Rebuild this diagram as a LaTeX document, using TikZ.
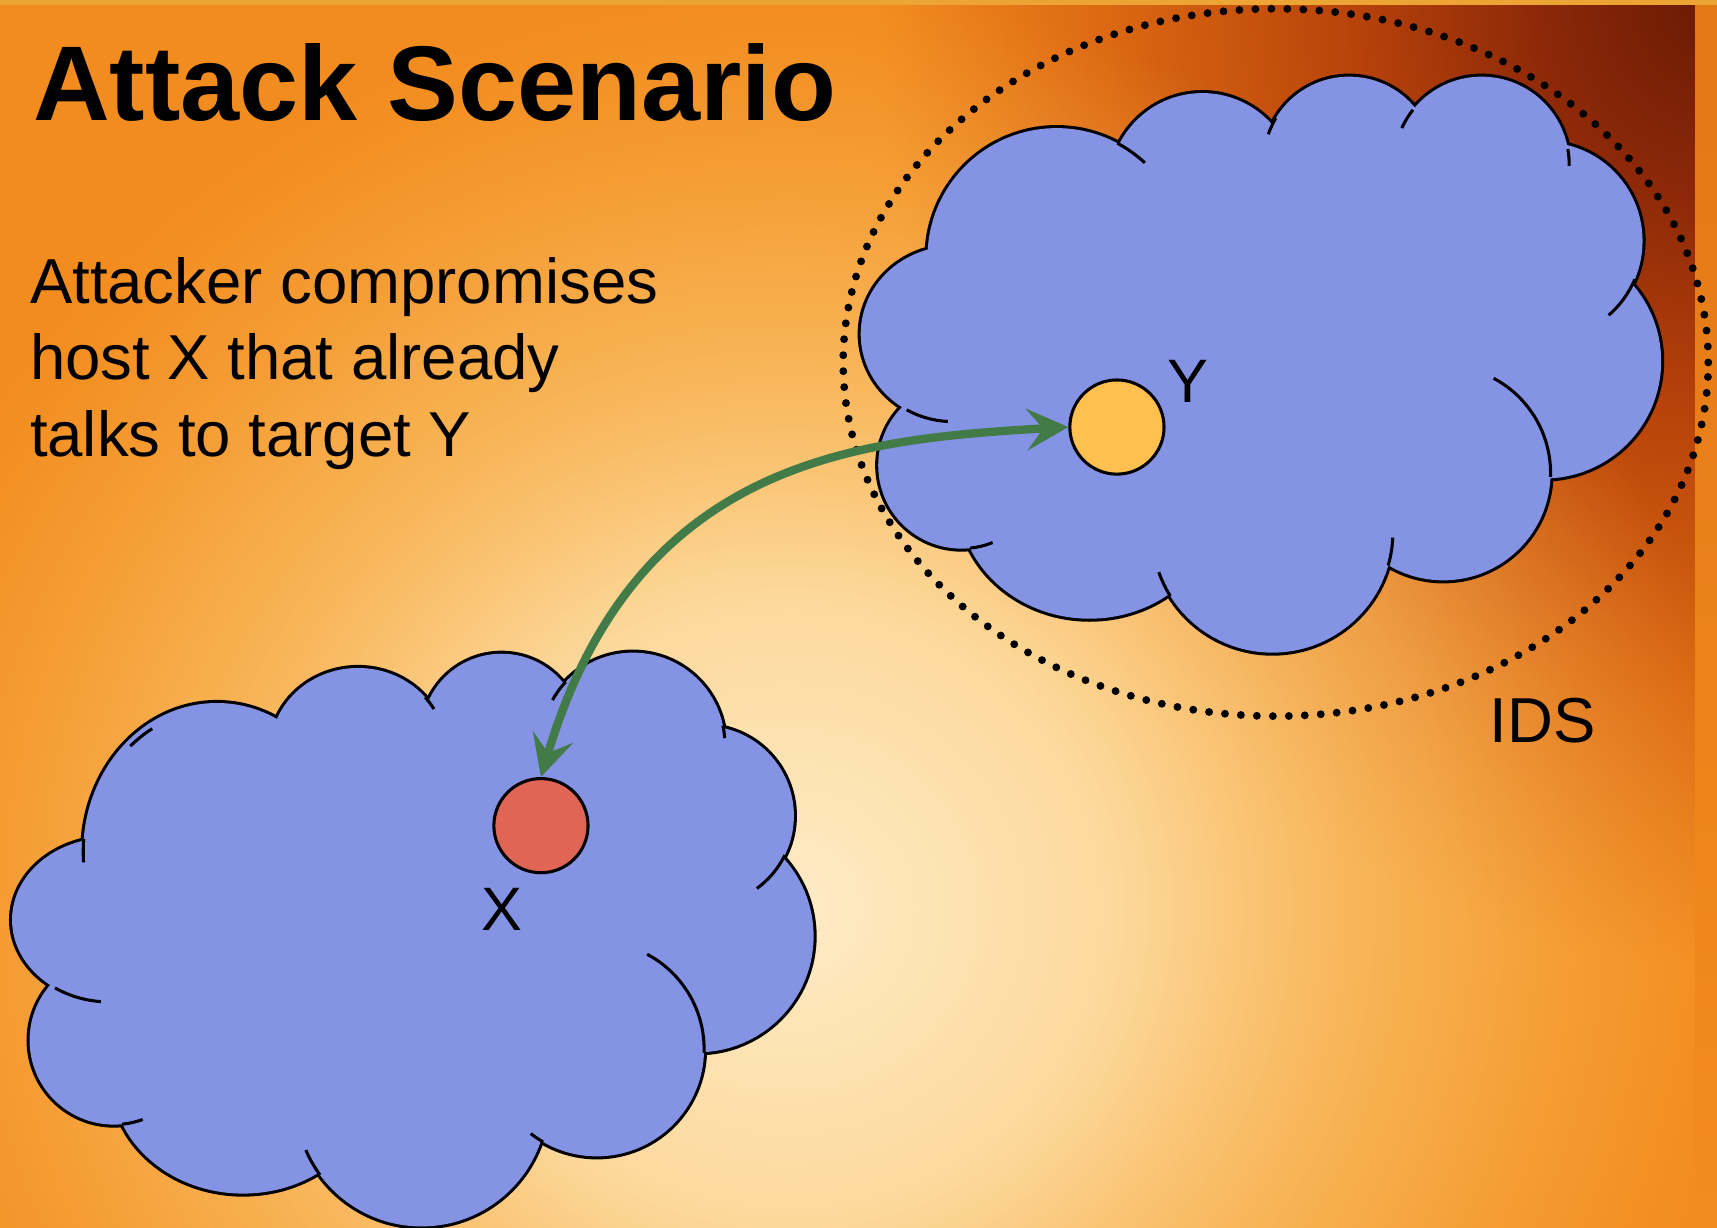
\documentclass[tikz,border=0pt]{standalone}
\usepackage{fontspec}
\setmainfont{Liberation Sans}
\usetikzlibrary{arrows.meta,fadings}
\definecolor{bgbase}{RGB}{243,140,30}
\definecolor{bgcream}{RGB}{255,236,200}
\definecolor{bgcreamb}{RGB}{254,226,172}
\definecolor{bglight}{RGB}{251,200,112}
\definecolor{bgmid}{RGB}{248,180,80}
\definecolor{bgdark}{RGB}{106,26,5}
\definecolor{bgdarkb}{RGB}{140,40,8}
\definecolor{bgred}{RGB}{186,68,10}
\definecolor{bgorred}{RGB}{220,104,18}
\definecolor{bgtop}{RGB}{236,164,52}
\definecolor{bgstrip}{RGB}{226,120,22}
\definecolor{cloudblue}{RGB}{132,147,228}
\definecolor{ycol}{RGB}{255,192,80}
\definecolor{xcol}{RGB}{224,101,85}
\definecolor{arrgreen}{RGB}{66,123,71}
\pgfdeclareradialshading{creamglow}{\pgfpoint{0bp}{0bp}}{color(0bp)=(bgcream);color(8bp)=(bgcreamb);color(16bp)=(bglight);color(25bp)=(bgmid);color(50bp)=(bgmid)}
\pgfdeclareradialshading{creamfadeshade}{\pgfpoint{0bp}{0bp}}{color(0bp)=(white);color(9bp)=(white!90!black);color(17bp)=(white!55!black);color(25bp)=(black);color(50bp)=(black)}
\pgfdeclarefading{creamfade}{\pgfuseshading{creamfadeshade}}
\pgfdeclareradialshading{darkglow}{\pgfpoint{0bp}{0bp}}{color(0bp)=(bgdark);color(5bp)=(bgdarkb);color(11bp)=(bgred);color(18bp)=(bgorred);color(25bp)=(bgbase);color(50bp)=(bgbase)}
\tikzset{
  puffline/.style={line width=2.8pt},
  puffhook/.style={line width=1.4pt},
  host/.style={circle, draw=black, line width=1.4pt, minimum size=43pt, inner sep=0pt},
  lbl/.style={inner sep=0pt, font=\fontsize{28}{34}\selectfont},
  body/.style={anchor=base west, inner sep=0pt, font=\fontsize{29}{35}\selectfont},
  idsring/.style={line width=3.6pt, line cap=round, dash pattern=on 0pt off 7.3pt},
  link/.style={draw=arrgreen, line width=3.8pt, {Stealth[length=19pt,width=19pt,inset=7.5pt]}-{Stealth[length=19pt,width=19pt,inset=7.5pt]}}
}
\def\cloudA{965/886/118/118, 1098/951/85/85, 1232/973/78/78, 1353/971/80/80, 1410/901/90/90, 1410/791/107/107, 1318/689/98/98, 1162/635/110/110, 995/666/120/110, 878/696/76/76, 870/816/84/80}
\def\cloudB{198/343/122/136, 327/436/80/75, 458/451/73/73, 578/441/84/84, 643/376/82/82, 637/266/106/106, 545/163/98/98, 385/116/115/115, 222/136/120/105, 104/171/77/77, 100/281/89/75}
\begin{document}
\begin{tikzpicture}[x=0.5pt,y=0.5pt]
% background
\useasboundingbox (0,0) rectangle (1568,1121);
\fill[bgbase] (0,0) rectangle (1568,1121);
\begin{scope}
\clip (0,0) rectangle (1548,1116);
\shade[shading=darkglow] (1560,1121) ellipse [x radius=760, y radius=880];
\shade[shading=creamglow, path fading=creamfade] (720,291) ellipse [x radius=880, y radius=840];
\end{scope}
\shade[top color=bgstrip, bottom color=bgbase] (1548,0) rectangle (1568,1116);
\fill[bgtop] (0,1116) rectangle (1568,1121);

% cloud around Y
\foreach \cx/\cy/\rx/\ry in \cloudA {\draw[puffline] (\cx,\cy) ellipse [x radius=\rx, y radius=\ry];}
\foreach \cx/\cy/\rx/\ry in \cloudA {\fill[cloudblue] (\cx,\cy) ellipse [x radius=\rx, y radius=\ry];}
\fill[cloudblue] (1140,801) ellipse [x radius=280, y radius=180];
\draw[puffhook] (965,886) ++(62:118) arc[start angle=62, end angle=47, radius=118];
\draw[puffhook] (1232,973) ++(149:78) arc[start angle=149, end angle=161, radius=78];
\draw[puffhook] (1353,971) ++(141.6:80) arc[start angle=141.6, end angle=155.6, radius=80];
\draw[puffhook] (1353,971) ++(10:80) arc[start angle=10, end angle=-1, radius=80];
\draw[puffhook] (1410,901) ++(-23:90) arc[start angle=-23, end angle=-49, radius=90];
\draw[puffhook] (1318,689) ++(-2:98) arc[start angle=-2, end angle=62, radius=98];
\draw[puffhook] (1162,635) ++(-16:110) arc[start angle=-16, end angle=-2.6, radius=110];
\draw[puffhook] (1162,635) ++(-148:110) arc[start angle=-148, end angle=-160.6, radius=110];
\draw[puffhook] (878,696) ++(-84:76) arc[start angle=-84, end angle=-68, radius=76];
\draw[puffhook] (870,816) ++(-120:84 and 80) arc[start angle=-120, end angle=-93, x radius=84, y radius=80];

% cloud around X
\foreach \cx/\cy/\rx/\ry in \cloudB {\draw[puffline] (\cx,\cy) ellipse [x radius=\rx, y radius=\ry];}
\foreach \cx/\cy/\rx/\ry in \cloudB {\fill[cloudblue] (\cx,\cy) ellipse [x radius=\rx, y radius=\ry];}
\fill[cloudblue] (380,271) ellipse [x radius=290, y radius=190];
\draw[puffhook] (578,441) ++(137:84) arc[start angle=137, end angle=151, radius=84];
\draw[puffhook] (578,441) ++(12:84) arc[start angle=12, end angle=4, radius=84];
\draw[puffhook] (643,376) ++(-26:82) arc[start angle=-26, end angle=-54, radius=82];
\draw[puffhook] (545,163) ++(-2:98) arc[start angle=-2, end angle=62, radius=98];
\draw[puffhook] (545,163) ++(-120:98) arc[start angle=-120, end angle=-128, radius=98];
\draw[puffhook] (385,116) ++(-143.8:115) arc[start angle=-143.8, end angle=-156.8, radius=115];
\draw[puffhook] (104,171) ++(-84.5:77) arc[start angle=-84.5, end angle=-70, radius=77];
\draw[puffhook] (100,281) ++(-124:89 and 75) arc[start angle=-124, end angle=-95, x radius=89, y radius=75];
\draw[puffhook] (198,343) ++(175:122 and 136) arc[start angle=175, end angle=184, x radius=122, y radius=136];
\draw[puffhook] (327,436) ++(40:80 and 75) arc[start angle=40, end angle=30, x radius=80, y radius=75];
\draw[puffhook] (198,343) ++(132:118 and 130) arc[start angle=132, end angle=120, x radius=118, y radius=130];

% IDS boundary
\draw[idsring] (1165,790) ellipse [x radius=395, y radius=323];

% hosts
\node[host, fill=ycol] (Y) at (1020,731) {};
\node[host, fill=xcol] (X) at (494,367) {};
\node[lbl, anchor=base] (ylbl) at (1085,753) {Y};
\node[lbl, anchor=base] (xlbl) at (458,271) {X};
\node[inner sep=0pt, anchor=base west, font=\fontsize{29}{35}\selectfont] (ids) at (1360,443) {IDS};

% connector
\draw[link] (X.north) .. controls (580,700) and (780,720) .. (Y.west);

% texts
\node[anchor=base west, inner sep=0pt, font=\fontsize{48.5}{58}\selectfont\bfseries] (title) at (30,1011) {Attack Scenario};
\node[body] (t1) at (27,844) {Attacker compromises};
\node[body] (t2) at (27,774) {host X that already};
\node[body] (t3) at (27,704) {talks to target Y};
\end{tikzpicture}
\end{document}
